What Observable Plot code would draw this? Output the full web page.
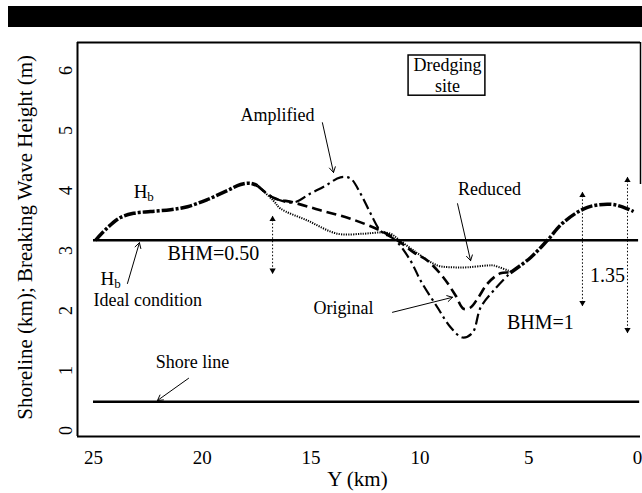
<!DOCTYPE html>
<html><head><meta charset="utf-8">
<script src="https://cdn.jsdelivr.net/npm/d3@7"></script>
<script src="https://cdn.jsdelivr.net/npm/@observablehq/plot@0.6"></script>
<style>
body{margin:0;background:#fff;}
#wrap{position:relative;width:642px;height:493px;}
#bar{position:absolute;left:8px;top:6px;width:634px;height:21px;background:#000;}
#chart{position:absolute;left:0;top:0;}
</style></head><body><div id="wrap"><div id="chart"></div><div id="bar"></div></div>
<script>
// Tick labels
const xTicks = [25, 20, 15, 10, 5, 0];
const yTicks = [0, 1, 2, 3, 4, 5, 6];

// Hb common part (left), Y in km, breaking wave height in m
const hbLeftX = [24.91, 24.36, 23.76, 23.16, 22.38, 21.46, 20.68, 19.76, 18.84, 18.24, 17.78, 17.46];
const hbLeftY = [3.17, 3.38, 3.55, 3.62, 3.65, 3.68, 3.73, 3.85, 4.00, 4.10, 4.12, 4.08];
// Amplified
const ampX = [17.46, 16.73, 15.81, 15.03, 14.34, 13.65, 13.19, 12.73, 12.27, 11.81, 11.12, 10.43, 9.97, 9.19, 8.59, 8.04, 7.58, 7.21, 6.62, 5.84];
const ampY = [4.08, 3.88, 3.80, 3.95, 4.08, 4.22, 4.20, 3.95, 3.62, 3.33, 3.17, 2.83, 2.50, 2.05, 1.72, 1.55, 1.63, 2.05, 2.33, 2.63];
// Original
const origX = [17.46, 16.73, 15.81, 14.57, 13.19, 11.81, 11.03, 10.29, 9.65, 8.92, 8.36, 8.00, 7.67, 7.31, 6.89, 6.30, 5.84];
const origY = [4.08, 3.88, 3.80, 3.67, 3.53, 3.33, 3.17, 2.97, 2.83, 2.55, 2.25, 2.03, 2.05, 2.22, 2.45, 2.62, 2.63];
// Reduced
const redX = [17.46, 16.73, 16.41, 15.17, 13.79, 12.59, 11.81, 11.35, 11.03, 10.29, 9.19, 8.46, 7.81, 6.89, 6.62, 5.84];
const redY = [4.08, 3.83, 3.70, 3.50, 3.28, 3.28, 3.30, 3.28, 3.20, 3.00, 2.75, 2.72, 2.72, 2.75, 2.75, 2.65];
// Hb common part (right)
const hbRightX = [5.84, 4.92, 4.14, 3.40, 2.30, 1.24, 0.64, 0.18];
const hbRightY = [2.63, 2.88, 3.17, 3.47, 3.72, 3.77, 3.72, 3.65];

// Reference lines
const idealLevel = 3.17;
const shoreLevel = 0.48;

// Annotations
const labels = [
  {x: 16.54, y: 5.25, t: "Amplified", s: 18},
  {x: 19.49, y: 2.95, t: "BHM=0.50", s: 20},
  {x: 6.80, y: 4.02, t: "Reduced", s: 18},
  {x: 13.51, y: 2.03, t: "Original", s: 18},
  {x: 4.46, y: 1.80, t: "BHM=1", s: 20},
  {x: 1.38, y: 2.58, t: "1.35", s: 20},
  {x: 20.45, y: 1.13, t: "Shore line", s: 18},
  {x: 8.73, y: 6.08, t: "Dredging", s: 18},
  {x: 8.73, y: 5.74, t: "site", s: 18}
];
const hLabels = [{x: 22.84, y: 3.97}, {x: 24.36, y: 2.53}];
const arrows = [
  {x1: 14.48, y1: 5.13, x2: 13.97, y2: 4.30},
  {x1: 23.44, y1: 2.45, x2: 22.89, y2: 3.13},
  {x1: 20.63, y1: 0.87, x2: 22.06, y2: 0.50},
  {x1: 8.27, y1: 3.78, x2: 7.67, y2: 2.83},
  {x1: 11.26, y1: 1.97, x2: 8.50, y2: 2.22}
];
const dimLines = [
  {x: 16.77, y1: 3.57, y2: 2.62},
  {x: 2.53, y1: 3.97, y2: 2.08},
  {x: 0.46, y1: 4.22, y2: 1.63}
];
const box = [{x1: 10.52, x2: 6.99, y1: 6.25, y2: 5.58}];

const xL = 25.735, xR = -0.138, yB = -0.1, yT = 6.4667;
const zip = (xs, ys) => xs.map((x, i) => ({x, y: ys[i]}));
const lineOpts = {x: "x", y: "y", curve: "catmull-rom", strokeLinecap: "butt", strokeLinejoin: "round"};

const plot = Plot.plot({
  width: 642, height: 493,
  marginLeft: 77, marginRight: 2, marginTop: 42, marginBottom: 57,
  style: {fontFamily: "Liberation Serif", color: "#000", background: "transparent"},
  x: {domain: [xL, xR], axis: null},
  y: {domain: [yB, yT], axis: null},
  marks: [
    // frame
    Plot.ruleX([xL], {strokeWidth: 2}),
    Plot.ruleY([yT], {strokeWidth: 2}),
    Plot.ruleY([yB], {strokeWidth: 2}),
    Plot.ruleX([xR], {y1: 4.1, y2: yT, strokeWidth: 1.5}),
    // tick labels
    Plot.text(xTicks, {x: d => d, y: yB, text: d => String(d), dy: 21, fontSize: 19}),
    Plot.text(yTicks, {x: xL, y: d => d, text: d => String(d), dx: -11, rotate: -90, fontSize: 18}),
    Plot.text(["Y (km)"], {x: 12.87, frameAnchor: "bottom", dy: 49, fontSize: 21}),
    Plot.text(["Shoreline (km); Breaking Wave Height (m)"], {frameAnchor: "left", y: 3.22, dx: -52, rotate: -90, textAnchor: "middle", fontSize: 21}),
    // reference lines
    Plot.ruleY([idealLevel], {x1: 25, x2: -0.05, strokeWidth: 2.5}),
    Plot.ruleY([shoreLevel], {x1: 25, x2: -0.1, strokeWidth: 2.5}),
    // series
    Plot.line(zip(redX, redY), {...lineOpts, strokeWidth: 2, strokeDasharray: "1.2,1.2"}),
    Plot.line(zip(origX, origY), {...lineOpts, strokeWidth: 2.6, strokeDasharray: "10,5"}),
    Plot.line(zip(ampX, ampY), {...lineOpts, strokeWidth: 2.2, strokeDasharray: "11,4,2.5,4"}),
    Plot.line(zip(hbLeftX, hbLeftY), {...lineOpts, strokeWidth: 3.5, strokeDasharray: "12,2,3,2"}),
    Plot.line(zip(hbRightX, hbRightY), {...lineOpts, strokeWidth: 3.5, strokeDasharray: "12,2,3,2"}),
    // dredging box
    Plot.rect(box, {x1: "x1", x2: "x2", y1: "y1", y2: "y2", fill: "none", stroke: "#000", strokeWidth: 1.5}),
    // annotations
    Plot.text(labels, {x: "x", y: "y", text: "t", fontSize: "s"}),
    Plot.text(hLabels, {x: "x", y: "y", text: () => "H", fontSize: 19}),
    Plot.text(hLabels, {x: "x", y: "y", text: () => "b", fontSize: 13, dx: 10, dy: 5}),
    Plot.text(["Ideal condition"], {x: 25.0, y: 2.17, textAnchor: "start", fontSize: 18}),
    Plot.arrow(arrows, {x1: "x1", y1: "y1", x2: "x2", y2: "y2", headLength: 9, strokeWidth: 1}),
    Plot.link(dimLines, {x1: "x", x2: "x", y1: "y1", y2: "y2", strokeWidth: 1, strokeDasharray: "1.5,2"}),
    Plot.dot(dimLines, {x: "x", y: "y1", symbol: "triangle2", r: 3, fill: "#000", stroke: null, dy: 3}),
    Plot.dot(dimLines, {x: "x", y: "y2", symbol: "triangle2", r: 3, fill: "#000", stroke: null, rotate: 180, dy: -3})
  ]
});
document.getElementById("chart").append(plot);
</script>
</body></html>
